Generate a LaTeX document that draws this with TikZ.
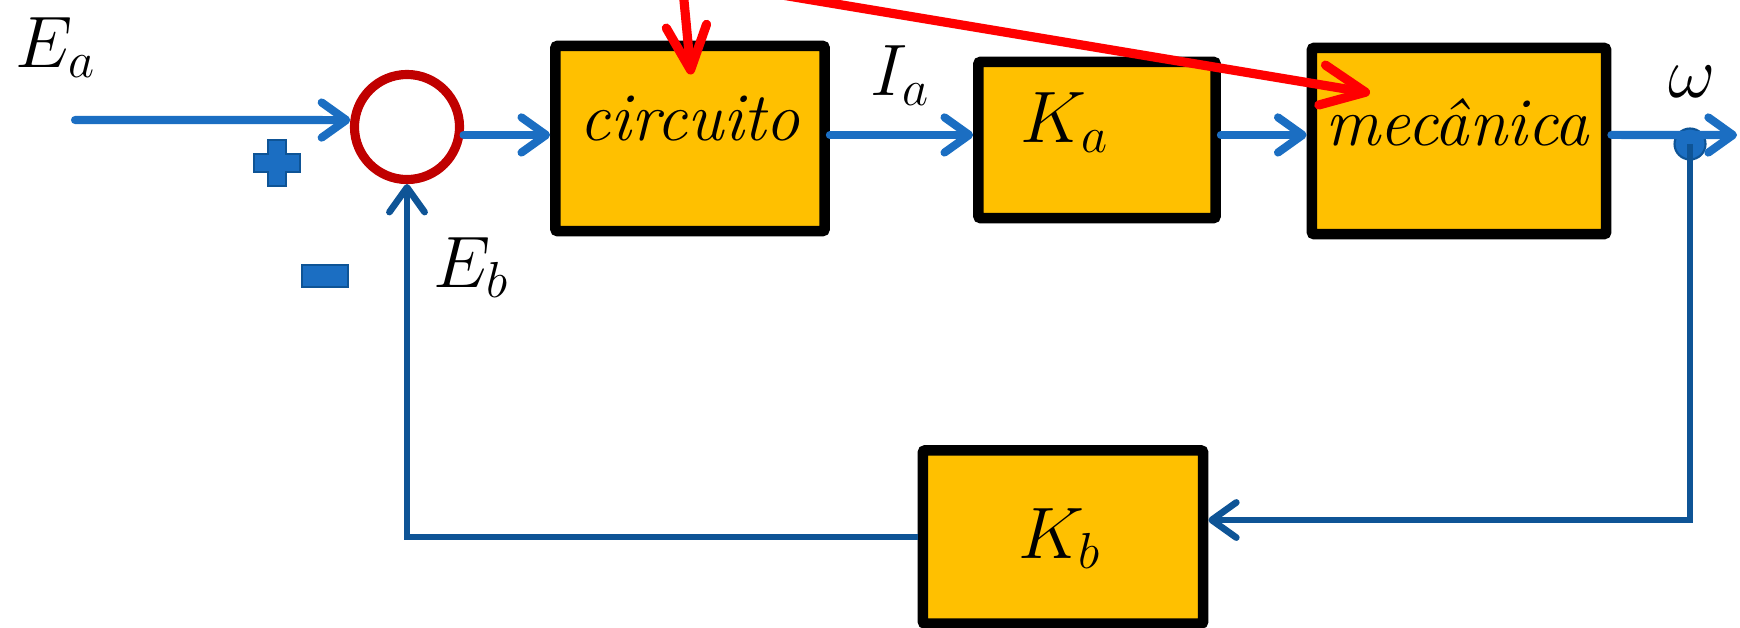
\documentclass[tikz,border=0pt]{standalone}
\usepackage{amsmath}
\usepackage{xcolor}
\usetikzlibrary{arrows.meta}
\definecolor{boxfill}{HTML}{FFC000}
\definecolor{sigblue}{HTML}{1B6EC2}
\definecolor{fbblue}{HTML}{0E5496}
\definecolor{sumred}{HTML}{C00000}
\definecolor{notered}{HTML}{FF0000}

\begin{document}
\begin{tikzpicture}[x=0.01cm,y=-0.01cm,
    block/.style={draw=black,fill=boxfill,line width=3pt,rounded corners=0.6pt,inner sep=0pt},
    summer/.style={circle,draw=sumred,line width=2.6pt,minimum size=1.05cm,inner sep=0pt},
    sig/.style={draw=sigblue,line width=2.3pt,line cap=round,-{Straight Barb[length=7pt,width=10pt,round]}},
    fbline/.style={draw=fbblue,line width=1.9pt,-{Straight Barb[length=7pt,width=10pt,round]}},
    note/.style={draw=notered,line width=2.6pt,line cap=round,-{Straight Barb[length=12.5pt,width=11.5pt,round]}},
    signmark/.style={fill=sigblue,draw=fbblue,line width=0.8pt},
    lbl/.style={inner sep=0pt,font=\fontsize{20.74}{25}\selectfont},
    word/.style={anchor=base,inner sep=0pt,font=\fontsize{19.5}{23}\selectfont\itshape}]
  \useasboundingbox (0,0) rectangle (1740,627);
  \clip (0,0) rectangle (1740,627);
  % Blocks
  \node[summer] (sum) at (407,127) {};
  \node[block,minimum width=2.69cm,minimum height=1.85cm] (circ) at (690,138.5) {};
  \node[block,minimum width=2.37cm,minimum height=1.56cm] (ka) at (1097,140) {};
  \node[block,minimum width=2.94cm,minimum height=1.86cm] (mec) at (1459,141) {};
  \node[block,minimum width=2.80cm,minimum height=1.73cm] (kb) at (1063,537) {};
  \node[circle,fill=sigblue,draw=fbblue,line width=0.6pt,minimum size=0.31cm,inner sep=0pt] (branch) at (1690,144) {};
  % Texts
  \node[word] (circtxt) at ([shift={(0,1.5)}]circ.center) {circuito};
  \node[word] (mectxt) at ([shift={(-2,4)}]mec.center) {mecânica};
  \node[lbl,anchor=base] (katxt) at ([shift={(-32,2)}]ka.center) {$K_a$};
  \node[lbl,anchor=base] (kbtxt) at ([shift={(-3,21)}]kb.center) {$K_b$};
  \node[lbl,anchor=base west] (ea) at (15,67) {$E_a$};
  \node[lbl,anchor=base west] (ia) at (870,95) {$I_a$};
  \node[lbl,anchor=base west] (eb) at (433,287) {$E_b$};
  \node[lbl,anchor=base] (w) at (1692,97) {$\omega$};
  % Signs
  \filldraw[signmark,shift={(277,163)}] (-9,-23) -- (9,-23) -- (9,-9) -- (23,-9) -- (23,9) -- (9,9)
    -- (9,23) -- (-9,23) -- (-9,9) -- (-23,9) -- (-23,-9) -- (-9,-9) -- cycle;
  \filldraw[signmark] (302,265) rectangle (348,287);
  % Signals
  \coordinate (ein) at (75,120);
  \coordinate (out) at (1737,135);
  \coordinate (fb) at (1690,520);
  \draw[sig] (ein) -- (sum.173);
  \draw[sig] (sum.-8) -- (sum.-8 -| circ.west);
  \draw[sig] (circ.east |- sum.-8) -- (ka.west |- sum.-8);
  \draw[sig] (ka.east |- sum.-8) -- (mec.west |- sum.-8);
  \draw[sig] (mec.east |- sum.-8) -- (out);
  % Feedback
  \draw[fbline] (branch.center) -- (fb) -- (fb -| kb.east);
  \draw[fbline] (kb.west) -| (sum.south);
  % Notes
  \coordinate (n1) at (683,-10);
  \coordinate (n2) at (752,-10);
  \draw[note] (n1) -- ([shift={(1,-64)}]circ.center);
  \draw[note] (n2) -- ([shift={(-89,-48)}]mec.center);
\end{tikzpicture}
\end{document}
